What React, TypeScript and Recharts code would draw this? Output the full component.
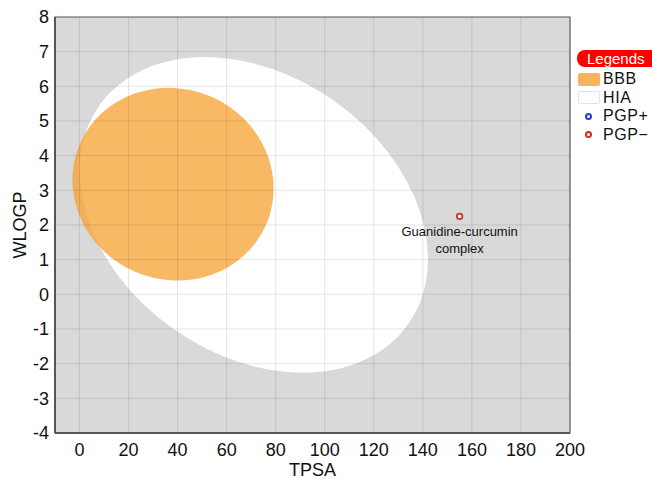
import React from "react";
import {
  ScatterChart,
  Scatter,
  XAxis,
  YAxis,
  ReferenceArea,
  ReferenceLine,
  Label,
} from "recharts";

const tpsaTicks = [0, 20, 40, 60, 80, 100, 120, 140, 160, 180, 200];
const wlogpTicks = [-4, -3, -2, -1, 0, 1, 2, 3, 4, 5, 6, 7, 8];
const tpsaDomain = [-10, 200];
const wlogpDomain = [-4, 8];

// BOILED-Egg regions: centre, full width/height (data units), rotation in data space (deg)
const regionNames = ["HIA", "BBB"];
const regionCenters = [
  [71.051, 2.292],
  [38.117, 3.177],
];
const regionSizes = [
  [142.081, 8.74],
  [82.061, 5.557],
];
const regionAngles = [-1.031325, -0.171887];
const regionFills = ["#ffffff", "#f5a030"];
const regionOpacity = [1, 0.75];

const molecules = [
  { name: "Guanidine-curcumin complex", tpsa: 155, wlogp: 2.25, pgp: "-" },
];

const legendItems = [
  { label: "BBB", kind: "box", color: "#f7b35e" },
  { label: "HIA", kind: "box", color: "#ffffff" },
  { label: "PGP+", kind: "dot", color: "#1f3fd6" },
  { label: "PGP\u2212", kind: "dot", color: "#c9301e" },
];

const FONT = "'Liberation Sans', Arial, Helvetica, sans-serif";

function EggShape(props: any) {
  const { x, y, width, height, fill, fillOpacity, w, h, angle } = props;
  const cx = x + width / 2;
  const cy = y + height / 2;
  const sx = width / w;
  const sy = height / h;
  const t = (angle * Math.PI) / 180;
  const c = Math.cos(t);
  const s = Math.sin(t);
  // rotation applied in data space, mapped to pixels
  const m = [c, (-s * sy) / sx, (s * sx) / sy, c, 0, 0];
  return (
    <g transform={`translate(${cx},${cy}) matrix(${m.join(",")})`}>
      <ellipse cx={0} cy={0} rx={width / 2} ry={height / 2} fill={fill} fillOpacity={fillOpacity} />
    </g>
  );
}

function MoleculeDot(props: any) {
  const { cx, cy, payload } = props;
  const color = payload.pgp === "+" ? "#1f3fd6" : "#c9301e";
  const words = payload.name.split(" ");
  return (
    <g>
      <circle cx={cx} cy={cy} r={2.8} fill="#ffffff" stroke={color} strokeWidth={1.8} />
      <text x={cx} y={cy + 20} textAnchor="middle" fontSize={13} fill="#111">
        {words[0]}
      </text>
      <text x={cx} y={cy + 37} textAnchor="middle" fontSize={13} fill="#111">
        {words.slice(1).join(" ")}
      </text>
    </g>
  );
}

function YTitle(props: any) {
  const { viewBox } = props;
  const y = viewBox.y + viewBox.height / 2;
  return (
    <text
      x={26}
      y={y}
      transform={`rotate(-90, 26, ${y})`}
      textAnchor="middle"
      fontSize={18}
      fill="#111"
    >
      WLOGP
    </text>
  );
}

function LegendBox() {
  return (
    <div style={{ position: "absolute", left: 577, top: 50, width: 75, fontFamily: FONT }}>
      <div
        style={{
          background: "#ff0000",
          color: "#fff",
          borderRadius: 8,
          height: 17,
          lineHeight: "17px",
          fontSize: 15,
          paddingLeft: 10,
          width: 80,
        }}
      >
        Legends
      </div>
      <div style={{ marginTop: 3 }}>
        {legendItems.map((it) => (
          <div key={it.label} style={{ display: "flex", alignItems: "center", height: 18.5 }}>
            <div style={{ width: 26, display: "flex", alignItems: "center" }}>
              {it.kind === "box" ? (
                <div
                  style={{
                    width: 22,
                    height: 13,
                    marginLeft: 1,
                    background: it.color,
                    border: it.color === "#ffffff" ? "1px solid #e2e2e2" : "none",
                    boxSizing: "border-box",
                    borderRadius: 2,
                  }}
                />
              ) : (
                <div
                  style={{
                    width: 7,
                    height: 7,
                    marginLeft: 8,
                    borderRadius: "50%",
                    border: `2px solid ${it.color}`,
                    boxSizing: "border-box",
                  }}
                />
              )}
            </div>
            <span style={{ fontSize: 16, color: "#111", lineHeight: "16px", letterSpacing: 0.6 }}>
              {it.label}
            </span>
          </div>
        ))}
      </div>
    </div>
  );
}

export default function App() {
  return (
    <div
      style={{
        position: "absolute",
        left: 0,
        top: 0,
        width: 652,
        height: 479,
        overflow: "hidden",
        background: "#fff",
        fontFamily: FONT,
      }}
    >
      <ScatterChart width={652} height={479} margin={{ top: 17, right: 82, bottom: 16, left: 10 }}>
        <XAxis
          type="number"
          dataKey="tpsa"
          domain={tpsaDomain}
          ticks={tpsaTicks}
          interval={0}
          allowDataOverflow
          height={30}
          tickLine={false}
          tickSize={6}
          tickMargin={4}
          axisLine={{ stroke: "#555", strokeWidth: 2 }}
          tick={{ fill: "#111", fontSize: 18 }}
        >
          <Label value="TPSA" position="bottom" offset={0} fontSize={18} fill="#111" />
        </XAxis>
        <YAxis
          type="number"
          dataKey="wlogp"
          domain={wlogpDomain}
          ticks={wlogpTicks}
          interval={0}
          allowDataOverflow
          width={45}
          tickLine={false}
          tickSize={4}
          tickMargin={2}
          axisLine={{ stroke: "#555", strokeWidth: 2 }}
          tick={{ fill: "#111", fontSize: 18 }}
        >
          <Label content={<YTitle />} />
        </YAxis>
        <ReferenceArea
          x1={tpsaDomain[0]}
          x2={tpsaDomain[1]}
          y1={wlogpDomain[0]}
          y2={wlogpDomain[1]}
          fill="#d9d9d9"
          fillOpacity={1}
          stroke="none"
        />
        {regionNames.map((name, i) => (
          <ReferenceArea
            key={name}
            x1={regionCenters[i][0] - regionSizes[i][0] / 2}
            x2={regionCenters[i][0] + regionSizes[i][0] / 2}
            y1={regionCenters[i][1] - regionSizes[i][1] / 2}
            y2={regionCenters[i][1] + regionSizes[i][1] / 2}
            ifOverflow="visible"
            shape={(p: any) => (
              <EggShape
                {...p}
                fill={regionFills[i]}
                fillOpacity={regionOpacity[i]}
                w={regionSizes[i][0]}
                h={regionSizes[i][1]}
                angle={regionAngles[i]}
              />
            )}
          />
        ))}
        {tpsaTicks.map((t) => (
          <ReferenceLine key={"v" + t} x={t} stroke="#000" strokeOpacity={0.1} strokeWidth={1} />
        ))}
        {wlogpTicks.map((t) => (
          <ReferenceLine key={"h" + t} y={t} stroke="#000" strokeOpacity={0.1} strokeWidth={1} />
        ))}
        <ReferenceArea
          x1={tpsaDomain[0]}
          x2={tpsaDomain[1]}
          y1={wlogpDomain[0]}
          y2={wlogpDomain[1]}
          fill="none"
          stroke="#666"
          strokeWidth={1.2}
        />
        <Scatter data={molecules} isAnimationActive={false} shape={<MoleculeDot />} />
      </ScatterChart>
      <LegendBox />
    </div>
  );
}
